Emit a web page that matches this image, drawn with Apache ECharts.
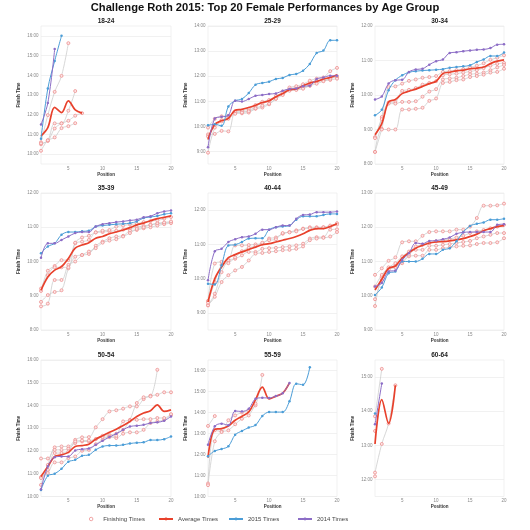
<!DOCTYPE html>
<html><head><meta charset="utf-8">
<script src="https://cdn.jsdelivr.net/npm/echarts@6/dist/echarts.min.js"></script>
<style>html,body{margin:0;padding:0;background:#fff}#c{width:530px;height:530px}</style>
</head><body><div id="c"></div>
<script>
// ---- DATA (finish times in decimal hours, index = position-1) ----
const ageGroups = ['18-24','25-29','30-34','35-39','40-44','45-49','50-54','55-59','60-64'];
const xTickLabels = [5, 10, 15, 20];

const avg1824 = [10.93, 11.35, 12.37, 12.11, 12.7, 12.25, 12.08];
const t2015_1824 = [10.78, 13.33, 14.73, 16.0];
const t2014_1824 = [11.5, 12.6, 15.33];
const fin1824 = [
  [10.6, 11.98, 13.16, 13.97, 15.63],
  [10.5, 10.7, 11.56, 11.56, 12.2, 13.2],
  [10.55, 10.67, 11.3, 11.56, 11.69, 11.95, 12.08],
  [10.17, 10.7, 10.85, 11.32, 11.42, 11.57]
];

const avg2529 = [9.48, 10.08, 10.22, 10.32, 10.64, 10.68, 10.75, 10.84, 10.95, 11.02, 11.18, 11.31, 11.46, 11.49, 11.62, 11.73, 11.79, 11.89, 11.95, 12.06];
const t2015_2529 = [10.04, 10.08, 10.02, 10.79, 11.02, 11.09, 11.33, 11.66, 11.73, 11.78, 11.89, 11.93, 12.05, 12.09, 12.22, 12.49, 12.92, 13.02, 13.43, 13.43];
const t2014_2529 = [9.17, 10.31, 10.38, 10.44, 11.02, 10.99, 11.09, 11.22, 11.25, 11.29, 11.31, 11.42, 11.49, 11.51, 11.6, 11.62, 11.89, 11.95, 12.02, 12.02];
const fin2529 = [
  [9.95, 10.3, 10.4, 10.42, 10.55, 10.58, 10.62, 10.8, 10.92, 11.0, 11.15, 11.28, 11.45, 11.48, 11.55, 11.62, 11.8, 11.85, 11.92, 11.95],
  [9.68, 9.7, 9.82, 9.8, 10.55, 10.52, 10.55, 10.7, 10.75, 10.88, 11.1, 11.38, 11.5, 11.55, 11.6, 11.75, 11.78, 11.82, 11.85, 11.9],
  [9.6, 10.05, 10.25, 10.35, 10.6, 10.62, 10.7, 10.85, 10.98, 11.05, 11.22, 11.35, 11.55, 11.6, 11.68, 11.82, 11.9, 11.95, 12.2, 12.33],
  [8.95, 9.95, 10.2, 10.3, 10.5, 10.55, 10.6, 10.72, 10.82, 10.9, 11.1, 11.25, 11.42, 11.45, 11.5, 11.62, 11.7, 11.8, 11.9, 12.0]
];

const avg3034 = [8.85, 9.17, 9.8, 9.87, 10.04, 10.11, 10.17, 10.25, 10.33, 10.4, 10.62, 10.66, 10.7, 10.72, 10.76, 10.78, 10.81, 10.91, 10.98, 11.02];
const t2015_3034 = [9.41, 9.57, 10.14, 10.43, 10.57, 10.66, 10.69, 10.71, 10.72, 10.73, 10.75, 10.79, 10.81, 10.83, 10.86, 10.96, 11.03, 11.13, 11.13, 11.23];
const t2014_3034 = [9.87, 9.96, 10.33, 10.43, 10.44, 10.67, 10.74, 10.76, 10.88, 10.98, 11.03, 11.22, 11.24, 11.27, 11.29, 11.31, 11.32, 11.36, 11.46, 11.47];
const fin3034 = [
  [8.78, 9.36, 10.23, 10.25, 10.33, 10.41, 10.45, 10.5, 10.52, 10.55, 10.67, 10.69, 10.72, 10.75, 10.8, 10.85, 10.92, 11.02, 11.08, 11.15],
  [8.35, 9.02, 9.78, 9.8, 10.12, 10.15, 10.2, 10.3, 10.35, 10.4, 10.57, 10.6, 10.62, 10.65, 10.68, 10.72, 10.78, 10.85, 10.9, 10.93],
  [8.75, 9.3, 9.75, 9.75, 9.8, 9.8, 9.82, 9.95, 10.1, 10.17, 10.45, 10.48, 10.5, 10.55, 10.6, 10.62, 10.65, 10.72, 10.8, 10.87],
  [8.35, 9.0, 9.0, 9.0, 9.58, 9.58, 9.6, 9.63, 9.83, 9.9, 10.35, 10.38, 10.43, 10.45, 10.52, 10.55, 10.59, 10.65, 10.67, 10.76]
];

const avg3539 = [9.16, 9.55, 9.75, 9.85, 10.09, 10.39, 10.48, 10.55, 10.68, 10.73, 10.81, 10.86, 10.92, 10.99, 11.07, 11.12, 11.19, 11.25, 11.29, 11.33];
const t2015_3539 = [10.24, 10.44, 10.53, 10.78, 10.86, 10.86, 10.88, 10.9, 11.02, 11.05, 11.07, 11.09, 11.1, 11.12, 11.17, 11.27, 11.3, 11.33, 11.38, 11.41];
const t2014_3539 = [10.11, 10.53, 10.53, 10.63, 10.73, 10.83, 10.86, 10.86, 11.02, 11.09, 11.12, 11.15, 11.17, 11.2, 11.22, 11.29, 11.32, 11.41, 11.46, 11.49];
const fin3539 = [
  [9.14, 9.73, 9.87, 10.04, 10.04, 10.53, 10.58, 10.63, 10.85, 10.86, 10.88, 10.9, 10.93, 10.96, 11.0, 11.04, 11.07, 11.1, 11.12, 11.15],
  [8.82, 9.02, 9.11, 9.16, 9.8, 10.14, 10.19, 10.22, 10.46, 10.58, 10.68, 10.73, 10.75, 10.9, 10.92, 10.97, 11.0, 11.05, 11.09, 11.12],
  [8.69, 8.77, 9.46, 9.46, 9.9, 10.0, 10.19, 10.29, 10.39, 10.55, 10.61, 10.65, 10.73, 10.83, 10.95, 11.0, 11.07, 11.12, 11.14, 11.17],
  [9.21, 9.6, 9.83, 9.83, 9.83, 10.55, 10.7, 10.75, 10.85, 10.9, 10.92, 11.02, 11.05, 11.08, 11.1, 11.15, 11.18, 11.2, 11.25, 11.3]
];

const avg4044 = [9.32, 10.0, 10.34, 10.61, 10.7, 10.78, 10.85, 10.92, 10.99, 11.02, 11.07, 11.12, 11.17, 11.23, 11.31, 11.41, 11.46, 11.46, 11.52, 11.6];
const t2015_4044 = [9.85, 9.83, 10.39, 10.97, 10.99, 11.07, 11.17, 11.18, 11.18, 11.43, 11.5, 11.52, 11.55, 11.72, 11.82, 11.82, 11.82, 11.86, 11.89, 11.89];
const t2014_4044 = [9.95, 10.8, 10.87, 11.07, 11.15, 11.21, 11.23, 11.31, 11.43, 11.43, 11.5, 11.55, 11.55, 11.75, 11.86, 11.87, 11.94, 11.94, 11.94, 11.96];
const fin4044 = [
  [9.35, 10.44, 10.49, 10.53, 10.97, 10.97, 10.98, 11.0, 11.02, 11.17, 11.2, 11.31, 11.36, 11.41, 11.46, 11.5, 11.5, 11.5, 11.52, 11.62],
  [9.22, 9.56, 10.19, 10.53, 10.58, 10.68, 10.78, 10.78, 10.87, 10.89, 10.9, 10.92, 10.94, 10.97, 11.02, 11.17, 11.21, 11.21, 11.43, 11.44],
  [9.22, 9.47, 9.9, 10.1, 10.24, 10.34, 10.53, 10.73, 10.75, 10.78, 10.8, 10.83, 10.84, 10.87, 10.94, 11.12, 11.17, 11.19, 11.23, 11.36],
  [9.3, 9.9, 10.4, 10.45, 10.62, 10.8, 10.9, 10.95, 11.05, 11.12, 11.15, 11.33, 11.35, 11.38, 11.45, 11.47, 11.48, 11.5, 11.55, 11.58]
];

const avg4549 = [10.17, 10.48, 10.8, 10.87, 11.1, 11.26, 11.39, 11.47, 11.54, 11.57, 11.58, 11.6, 11.63, 11.67, 11.73, 11.8, 11.9, 11.96, 12.02, 12.05];
const t2015_4549 = [10.02, 10.24, 10.66, 10.71, 11.0, 11.0, 11.0, 11.08, 11.22, 11.22, 11.34, 11.39, 11.59, 11.86, 12.04, 12.1, 12.14, 12.22, 12.22, 12.25];
const t2014_4549 = [10.27, 10.37, 10.71, 10.74, 11.05, 11.24, 11.54, 11.52, 11.6, 11.61, 11.65, 11.7, 11.81, 11.85, 11.86, 11.86, 11.86, 11.86, 12.07, 12.09];
const fin4549 = [
  [10.61, 10.8, 11.02, 11.12, 11.56, 11.59, 11.59, 11.75, 11.86, 11.88, 11.88, 11.88, 11.93, 11.93, 12.02, 12.27, 12.63, 12.63, 12.64, 12.69],
  [9.7, 10.56, 10.8, 10.87, 10.95, 11.15, 11.17, 11.17, 11.34, 11.34, 11.39, 11.41, 11.44, 11.46, 11.47, 11.51, 11.54, 11.54, 11.56, 11.68],
  [9.9, 10.46, 10.76, 10.83, 11.0, 11.2, 11.34, 11.34, 11.46, 11.46, 11.49, 11.51, 11.54, 11.57, 11.6, 11.68, 11.73, 11.78, 11.83, 11.83],
  [10.27, 10.61, 10.83, 10.95, 11.15, 11.29, 11.44, 11.49, 11.54, 11.59, 11.62, 11.66, 11.7, 11.75, 11.83, 11.88, 11.92, 11.97, 12.02, 12.07]
];

const avg5054 = [10.88, 11.32, 11.76, 11.83, 11.94, 12.2, 12.24, 12.3, 12.52, 12.67, 12.82, 12.96, 13.12, 13.3, 13.52, 13.67, 13.77, 14.03, 13.74, 13.81];
const t2015_5054 = [10.29, 10.91, 11.0, 11.22, 11.53, 11.61, 11.79, 11.83, 12.05, 12.2, 12.24, 12.24, 12.27, 12.33, 12.36, 12.38, 12.48, 12.48, 12.52, 12.64];
const t2014_5054 = [10.32, 11.32, 11.73, 11.76, 11.76, 12.02, 12.08, 12.11, 12.27, 12.45, 12.61, 12.76, 12.93, 13.08, 13.11, 13.15, 13.23, 13.26, 13.33, 13.52];
const fin5054 = [
  [11.67, 11.67, 12.16, 12.2, 12.2, 12.49, 12.6, 12.61, 13.04, 13.4, 13.74, 13.79, 13.86, 13.96, 13.96, 14.28, 14.43, 14.47, 14.58, 14.58],
  [10.51, 11.39, 12.05, 12.05, 12.1, 12.35, 12.42, 12.42, 12.52, 12.67, 12.71, 12.76, 12.93, 13.37, 14.11, 14.36, 14.4, 15.57],
  [10.85, 11.03, 11.5, 11.5, 11.69, 11.76, 12.01, 12.05, 12.3, 12.49, 12.64, 12.57, 12.76, 12.82, 12.82, 12.93, 13.23, 13.3, 13.37, 13.59],
  [10.81, 11.17, 11.91, 11.91, 11.98, 12.42, 12.46, 12.46, 12.52, 12.61, 12.61, 12.67, 13.3, 13.34, 13.37, 13.4, 13.4, 13.45, 13.45, 13.62]
];

const avg5559 = [11.85, 13.2, 13.23, 13.36, 13.63, 13.82, 14.02, 14.61, 15.21, 14.65, 14.78, 14.92, 15.41];
const t2015_5559 = [11.92, 12.17, 12.26, 12.39, 12.94, 13.12, 13.28, 13.4, 13.83, 14.02, 14.02, 14.02, 14.53, 15.37, 15.32, 16.16];
const t2014_5559 = [12.47, 13.34, 13.47, 13.39, 14.07, 14.05, 14.18, 14.65, 14.7, 14.69, 14.78, 14.92, 15.41];
const fin5559 = [
  [13.36, 13.83],
  [10.62, 13.15, 13.1, 13.63, 13.86, 14.0, 14.1, 14.34, 15.79],
  [10.54, 12.63, 13.07, 13.15, 13.44, 13.7, 13.86, 14.42]
];

const avg6064 = [13.04, 14.34, 13.64, 14.76];
const t2015_6064 = [13.93];
const t2014_6064 = [13.62, 14.81];
const fin6064 = [
  [13.85, 15.24],
  [12.2, 13.04, 13.64, 14.76],
  [13.42],
  [12.09]
];

const avgList = [avg1824, avg2529, avg3034, avg3539, avg4044, avg4549, avg5054, avg5559, avg6064];
const t2015List = [t2015_1824, t2015_2529, t2015_3034, t2015_3539, t2015_4044, t2015_4549, t2015_5054, t2015_5559, t2015_6064];
const t2014List = [t2014_1824, t2014_2529, t2014_3034, t2014_3539, t2014_4044, t2014_4549, t2014_5054, t2014_5559, t2014_6064];
const finList = [fin1824, fin2529, fin3034, fin3539, fin4044, fin4549, fin5054, fin5559, fin6064];

// axis extents (hours)
const yMin = [9.5, 8.5, 8, 8, 8.5, 9, 10, 10, 11.5];
const yMax = [16.5, 14, 12, 12, 12.5, 13, 16, 16.5, 15.5];

// ---- LAYOUT ----
const colLeft = [41, 208, 375];
const colWidth = [130, 129, 129];
const rowTop = [26, 193, 360];
const rowHeight = [138, 137, 136.5];
const FONT = 'Liberation Sans, Arial, Helvetica, sans-serif';

const C_AVG = '#e8412c', C_15 = '#4b9dd7', C_14 = '#8c6dc6', C_FINLINE = '#cdcdcd', C_FINPT = '#ee9090';

function hm(v) {
  const h = Math.floor(v + 1e-9);
  const m = Math.round((v - h) * 60);
  return h + ':' + String(m).padStart(2, '0');
}
function pts(arr) { return arr.map((v, i) => [i + 1, v]); }

const grids = [], xAxes = [], yAxes = [], series = [];
const titles = [{
  text: 'Challenge Roth 2015: Top 20 Female Performances by Age Group',
  left: 'center', top: 2.5, padding: 0,
  textStyle: { fontSize: 11.2, fontWeight: 'bold', color: '#111', fontFamily: FONT }
}];

for (let i = 0; i < 9; i++) {
  const r = Math.floor(i / 3), c = i % 3;
  grids.push({ left: colLeft[c], top: rowTop[r], width: colWidth[c], height: rowHeight[r],
    show: true, borderColor: '#e8e8e8', borderWidth: 0.6, containLabel: false });
  titles.push({ text: ageGroups[i], left: colLeft[c] + colWidth[c] / 2, top: rowTop[r] - 8, textAlign: 'center', padding: 0,
    textStyle: { fontSize: 6.5, fontWeight: 'bold', color: '#222', fontFamily: FONT } });
  const ticks = [];
  for (let h = Math.ceil(yMin[i]); h <= Math.floor(yMax[i]); h++) ticks.push(h);
  xAxes.push({ type: 'value', gridIndex: i, min: 1, max: 20,
    axisLine: { show: false }, axisTick: { show: false }, splitLine: { show: false },
    axisLabel: { customValues: xTickLabels, fontSize: 4.5, color: '#888', margin: 2, fontFamily: FONT },
    name: 'Position', nameLocation: 'middle', nameGap: 6.5,
    nameTextStyle: { fontSize: 4.5, fontWeight: 'bold', color: '#333', fontFamily: FONT } });
  yAxes.push({ type: 'value', gridIndex: i, min: yMin[i], max: yMax[i],
    axisLine: { show: false }, axisTick: { show: false, customValues: ticks },
    splitLine: { show: true, lineStyle: { color: '#ebebeb', width: 0.7 } },
    axisLabel: { customValues: ticks, formatter: hm, fontSize: 4.5, color: '#888', margin: 2.5, fontFamily: FONT },
    name: 'Finish Time', nameLocation: 'middle', nameGap: 19.5, nameRotate: 90,
    nameTextStyle: { fontSize: 4.5, fontWeight: 'bold', color: '#333', fontFamily: FONT } });

  finList[i].forEach(f => series.push({
    type: 'line', name: 'Finishing Times', xAxisIndex: i, yAxisIndex: i, data: pts(f),
    smooth: 0.35, symbol: 'circle', symbolSize: 3, showSymbol: true,
    lineStyle: { color: C_FINLINE, width: 0.8 },
    itemStyle: { color: '#fce6e6', borderColor: C_FINPT, borderWidth: 0.8 }, z: 2
  }));
  series.push({ type: 'line', name: 'Average Times', xAxisIndex: i, yAxisIndex: i, data: pts(avgList[i]),
    smooth: 0.35, symbol: 'none', lineStyle: { color: C_AVG, width: 1.7 }, itemStyle: { color: C_AVG }, z: 3 });
  series.push({ type: 'line', name: '2015 Times', xAxisIndex: i, yAxisIndex: i, data: pts(t2015List[i]),
    smooth: 0.35, symbol: 'circle', symbolSize: 2.5, showSymbol: true,
    lineStyle: { color: C_15, width: 1.0 }, itemStyle: { color: C_15 }, z: 4 });
  series.push({ type: 'line', name: '2014 Times', xAxisIndex: i, yAxisIndex: i, data: pts(t2014List[i]),
    smooth: 0.35, symbol: 'circle', symbolSize: 2.5, showSymbol: true,
    lineStyle: { color: C_14, width: 1.0 }, itemStyle: { color: C_14 }, z: 5 });
}

const legendNames = ['Finishing Times', 'Average Times', '2015 Times', '2014 Times'];
const legendLeft = [89, 158, 228, 297];
const legends = legendNames.map((n, k) => ({
  data: [k === 0 ? { name: n, icon: 'circle', itemStyle: { color: '#fff', borderColor: C_FINPT, borderWidth: 0.8 } } : n],
  left: legendLeft[k], top: 516, padding: 0, itemWidth: 14, itemHeight: 3.5, itemGap: 0,
  selectedMode: false, textStyle: { fontSize: 6, color: '#444', fontFamily: FONT }
}));

const chart = echarts.init(document.getElementById('c'), null, { renderer: 'canvas' });
chart.setOption({
  animation: false,
  backgroundColor: '#fff',
  title: titles,
  legend: legends,
  grid: grids,
  xAxis: xAxes,
  yAxis: yAxes,
  series: series
});
</script></body></html>
